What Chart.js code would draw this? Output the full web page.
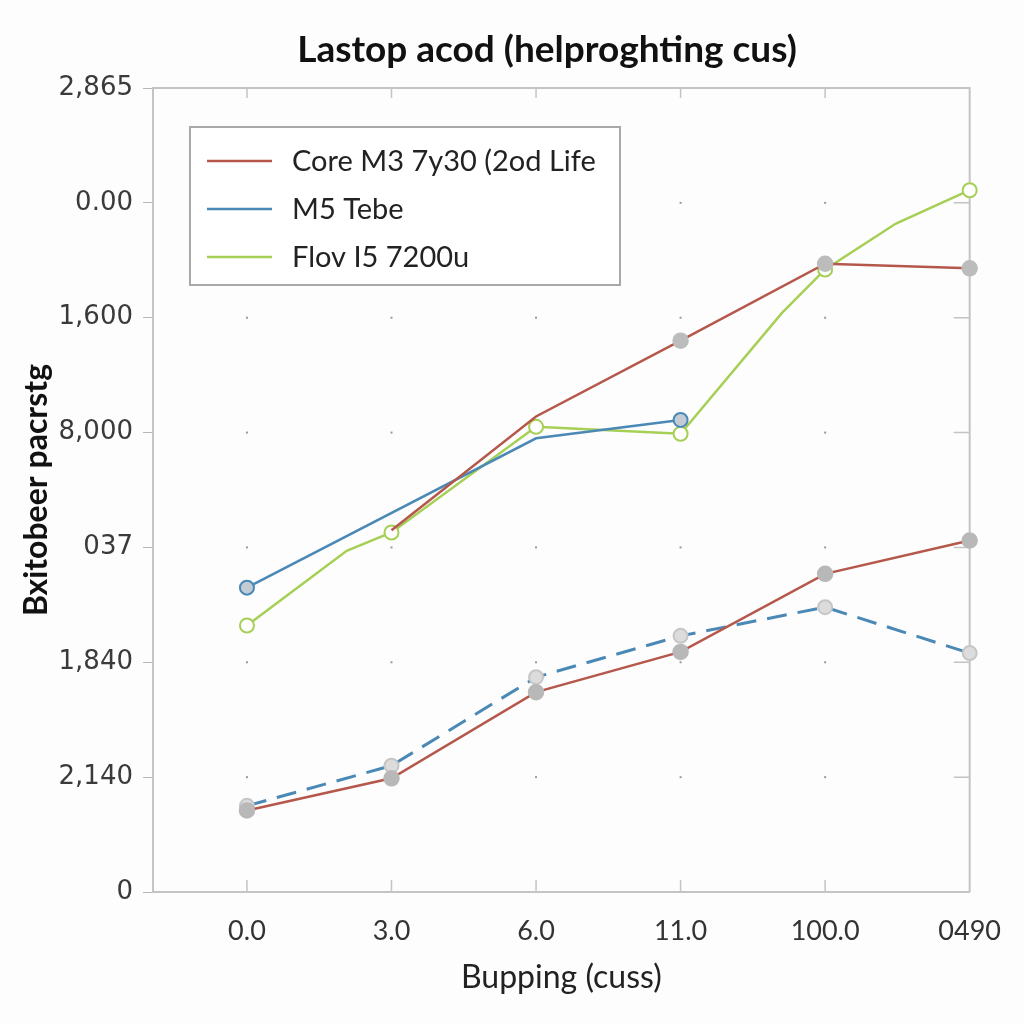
<!DOCTYPE html>
<html>
<head>
<meta charset="utf-8">
<title>Lastop acod</title>
<script src="https://cdn.jsdelivr.net/npm/chart.js@4.4.1/dist/chart.umd.min.js"></script>
<style>
  html, body { margin: 0; padding: 0; background: #fdfdfd; }
  #wrap { width: 1024px; height: 1024px; }
</style>
</head>
<body>
<div id="wrap"><canvas id="chart" width="1024" height="1024"></canvas></div>
<script>
// ── Data ─────────────────────────────────────────────────────
const chartTitle   = 'Lastop acod (helproghting cus)';
const xValues      = [0, 1, 2, 3, 4, 5];
const xTickLabels  = ['0.0', '3.0', '6.0', '11.0', '100.0', '0490'];
const yTickLabels  = ['0', '2,140', '1,840', '037', '8,000', '1,600', '0.00', '2,865'];

const seriesNames  = ['Core M3 7y30 (2od Life', 'M5 Tebe', 'Flov I5 7200u'];

// upper group
const coreM3Upper  = [null, 3.15, 4.14, 4.80, 5.47, 5.43];
const m5Upper      = [2.65, null, 3.95, 4.11, null, null];
const flovX        = [0, 0.69, 1, 2, 3, 3.70, 4, 4.49, 5];
const flovY        = [2.32, 2.97, 3.13, 4.05, 3.99, 5.04, 5.42, 5.82, 6.11];

// lower group
const coreM3Lower  = [0.71, 0.99, 1.74, 2.09, 2.77, 3.06];
const m5Lower      = [0.75, 1.10, 1.87, 2.23, 2.48, 2.08];

const COLORS = { red: '#b5574b', blue: '#4a89b6', green: '#a6cf55' };

const toPoints = ys => xValues.map((x, i) => ({ x, y: ys[i] }));

// ── Plugins: title, dotted grid, frame ticks, boxed legend ───
const centeredTitle = {
  id: 'centeredTitle',
  afterDraw(chart) {
    const { ctx } = chart;
    ctx.save();
    ctx.font = 'bold 37px Lato';
    ctx.fillStyle = '#111';
    ctx.textAlign = 'center';
    ctx.textBaseline = 'middle';
    ctx.fillText(chartTitle, 547, 50);
    ctx.restore();
  }
};

const frameGrid = {
  id: 'frameGrid',
  beforeDatasetsDraw(chart) {
    const { ctx, chartArea: a, scales: { x, y } } = chart;
    ctx.save();
    ctx.fillStyle = '#9a9a9a';
    for (let i = 0; i < 5; i++) {
      for (let j = 1; j < 7; j++) {
        ctx.fillRect(x.getPixelForValue(i) - 1, y.getPixelForValue(j) - 1, 2, 2);
      }
    }
    ctx.strokeStyle = '#c4c4c4';
    ctx.lineWidth = 2;
    ctx.beginPath();
    ctx.moveTo(a.left, a.top); ctx.lineTo(a.right, a.top); ctx.lineTo(a.right, a.bottom);
    ctx.stroke();
    ctx.lineWidth = 1.5;
    ctx.beginPath();
    for (let i = 0; i < 5; i++) {
      const px = x.getPixelForValue(i);
      ctx.moveTo(px, a.top); ctx.lineTo(px, a.top + 10);
      ctx.moveTo(px, a.bottom); ctx.lineTo(px, a.bottom - 12);
    }
    for (let j = 1; j < 7; j++) {
      const py = y.getPixelForValue(j);
      ctx.moveTo(a.right, py); ctx.lineTo(a.right - 16, py);
    }
    ctx.stroke();
    ctx.restore();
  }
};

const boxLegend = {
  id: 'boxLegend',
  afterDraw(chart) {
    const { ctx, chartArea: a } = chart;
    const sets = chart.data.datasets.filter(d => d.label);
    const bx = a.left + 37, by = a.top + 39, bw = 430, bh = 158;
    ctx.save();
    ctx.fillStyle = '#ffffff';
    ctx.fillRect(bx, by, bw, bh);
    ctx.strokeStyle = '#a8a8a8';
    ctx.lineWidth = 2;
    ctx.strokeRect(bx, by, bw, bh);
    ctx.font = '29px Lato';
    ctx.textBaseline = 'middle';
    sets.forEach((d, i) => {
      const ly = by + 34 + i * 48;
      ctx.strokeStyle = d.borderColor;
      ctx.lineWidth = 2.5;
      ctx.beginPath();
      ctx.moveTo(bx + 17, ly); ctx.lineTo(bx + 82, ly);
      ctx.stroke();
      ctx.fillStyle = '#222';
      ctx.fillText(d.label, bx + 102, ly + 1);
    });
    ctx.restore();
  }
};

// ── Chart ────────────────────────────────────────────────────
new Chart(document.getElementById('chart').getContext('2d'), {
  type: 'line',
  data: {
    datasets: [
      {
        label: seriesNames[0],
        data: toPoints(coreM3Upper),
        borderColor: COLORS.red, borderWidth: 2.5,
        pointRadius: [0, 0, 0, 7, 7, 7],
        pointBackgroundColor: '#bcbcbc', pointBorderColor: '#bcbcbc',
        spanGaps: true, clip: false
      },
      {
        label: seriesNames[1],
        data: toPoints(m5Upper),
        borderColor: COLORS.blue, borderWidth: 2.5,
        pointRadius: [7, 0, 0, 7, 0, 0],
        pointBackgroundColor: '#c3ccd4', pointBorderColor: COLORS.blue, pointBorderWidth: 2,
        spanGaps: true, clip: false
      },
      {
        label: seriesNames[2],
        data: flovX.map((x, i) => ({ x, y: flovY[i] })),
        borderColor: COLORS.green, borderWidth: 2.5,
        pointRadius: ctx => Number.isInteger(flovX[ctx.dataIndex]) ? 7 : 0,
        pointBackgroundColor: '#ffffff', pointBorderColor: COLORS.green, pointBorderWidth: 2,
        clip: false
      },
      {
        data: toPoints(coreM3Lower),
        borderColor: COLORS.red, borderWidth: 2.5,
        pointRadius: 7,
        pointBackgroundColor: '#b8b8b8', pointBorderColor: '#b8b8b8',
        clip: false
      },
      {
        data: toPoints(m5Lower),
        borderColor: COLORS.blue, borderWidth: 3, borderDash: [20, 11],
        pointRadius: 7,
        pointBackgroundColor: '#dcdcdc', pointBorderColor: '#c6c6c6', pointBorderWidth: 2,
        clip: false
      }
    ]
  },
  options: {
    responsive: false,
    animation: false,
    layout: { padding: { top: 88, right: 51, bottom: 0, left: 0 } },
    plugins: {
      legend: { display: false },
      tooltip: { enabled: false },
      title: { display: false }
    },
    scales: {
      x: {
        type: 'linear', min: -0.65, max: 5,
        afterBuildTicks: s => { s.ticks = xValues.map(v => ({ value: v })); },
        ticks: {
          callback: v => xTickLabels[v],
          color: '#333', padding: 23, maxRotation: 0, autoSkip: false,
          font: { family: 'Lato', size: 27 }
        },
        grid: { drawOnChartArea: false, drawTicks: false },
        border: { color: '#c4c4c4', width: 2 },
        title: {
          display: true, text: 'Bupping (cuss)', color: '#222',
          font: { family: 'Lato', size: 32 },
          padding: { top: 6, bottom: 27 }
        },
        afterFit: s => { s.height = 132; }
      },
      y: {
        type: 'linear', min: 0, max: 7,
        afterBuildTicks: s => { s.ticks = yTickLabels.map((_, i) => ({ value: i })); },
        ticks: {
          callback: v => yTickLabels[v],
          color: '#3a3a3a', padding: 10, autoSkip: false,
          font: { family: 'DejaVu Sans', size: 26 }
        },
        grid: { drawOnChartArea: false, tickLength: 10, color: '#b8b8b8' },
        border: { color: '#c4c4c4', width: 2 },
        title: {
          display: true, text: 'Bxitobeer pacrstg', color: '#111',
          font: { family: 'Lato', size: 32, weight: 'bold' },
          padding: { top: 17, bottom: 0 }
        },
        afterFit: s => { s.width = 153; }
      }
    }
  },
  plugins: [frameGrid, boxLegend, centeredTitle]
});
</script>
</body>
</html>
